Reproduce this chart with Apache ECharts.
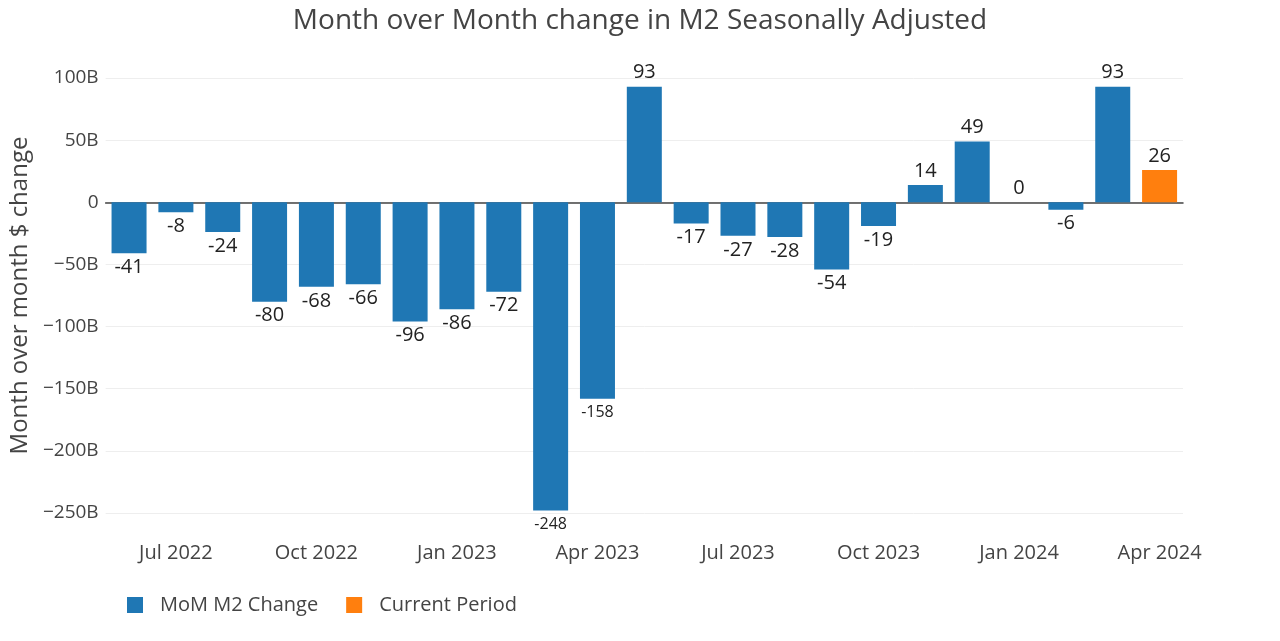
<!DOCTYPE html>
<html>
<head>
<meta charset="utf-8">
<script src="https://cdn.jsdelivr.net/npm/echarts@6/dist/echarts.min.js"></script>
<style>html,body{margin:0;padding:0;background:#fff;}#c{width:1280px;height:641px;}</style>
</head>
<body>
<div id="c"></div>
<script>
const months = ["Jun 2022","Jul 2022","Aug 2022","Sep 2022","Oct 2022","Nov 2022","Dec 2022",
  "Jan 2023","Feb 2023","Mar 2023","Apr 2023","May 2023","Jun 2023","Jul 2023","Aug 2023","Sep 2023",
  "Oct 2023","Nov 2023","Dec 2023","Jan 2024","Feb 2024","Mar 2024","Apr 2024"];
const momChange = [-41,-8,-24,-80,-68,-66,-96,-86,-72,-248,-158,93,-17,-27,-28,-54,-19,14,49,0,-6,93,null];
const currentPeriod = [null,null,null,null,null,null,null,null,null,null,null,null,null,null,null,null,null,null,null,null,null,null,26];
const yTicks = [-250,-200,-150,-100,-50,0,50,100];
const tickMonths = ["Jul 2022","Oct 2022","Jan 2023","Apr 2023","Jul 2023","Oct 2023","Jan 2024","Apr 2024"];

const FONT = "Open Sans";
const TXT = "#444";

function fmtY(v){
  if (v === 0) return "0";
  return (v < 0 ? "\u2212" + Math.abs(v) : v) + "B";
}
function labelFor(v){
  if (v === null) return null;
  const big = Math.abs(v) >= 150;
  return {
    value: v,
    label: {
      position: v >= 0 ? "top" : "bottom",
      fontSize: big ? 16 : 20,
      distance: big ? 6 : 4
    }
  };
}

const chart = echarts.init(document.getElementById("c"), null, {renderer: "canvas"});
chart.setOption({
  animation: false,
  backgroundColor: "#fff",
  textStyle: {fontFamily: FONT, color: TXT},
  title: {
    text: "Month over Month change in M2 Seasonally Adjusted",
    left: "center", top: 2,
    textStyle: {fontFamily: FONT, fontSize: 28, fontWeight: "normal", color: TXT}
  },
  legend: {
    left: 122, top: 590, icon: "rect",
    itemWidth: 16, itemHeight: 16, itemGap: 28,
    textStyle: {fontFamily: FONT, fontSize: 20, color: TXT, padding: [0,0,0,12]},
    data: ["MoM M2 Change", "Current Period"]
  },
  grid: {left: 105, right: 97, top: 78, bottom: 128, containLabel: false},
  xAxis: {
    type: "category",
    data: months,
    axisTick: {show: false},
    axisLine: {show: true, onZero: true, lineStyle: {color: "#444", width: 1.5}},
    axisLabel: {
      fontFamily: FONT, fontSize: 20, color: TXT, margin: 30,
      interval: function(i, v){ return tickMonths.indexOf(v) >= 0; }
    },
    splitLine: {show: false}
  },
  yAxis: {
    type: "value",
    min: yTicks[0], max: yTicks[yTicks.length-1], interval: 50,
    name: "Month over month $ change",
    nameLocation: "middle", nameGap: 67, nameRotate: 90,
    nameTextStyle: {fontFamily: FONT, fontSize: 24, color: TXT},
    axisLine: {show: false}, axisTick: {show: false},
    axisLabel: {fontFamily: FONT, fontSize: 19, color: TXT, margin: 7, formatter: fmtY},
    splitLine: {lineStyle: {color: "#eeeeee", width: 1}}
  },
  series: [
    {
      name: "MoM M2 Change", type: "bar",
      data: momChange.map(labelFor),
      itemStyle: {color: "#1f77b4"},
      barWidth: 35, barGap: "-100%",
      label: {show: true, fontFamily: FONT, color: "#222", formatter: p => String(p.value)}
    },
    {
      name: "Current Period", type: "bar",
      data: currentPeriod.map(labelFor),
      itemStyle: {color: "#ff7f0e"},
      barWidth: 35, barGap: "-100%",
      label: {show: true, fontFamily: FONT, color: "#222", formatter: p => String(p.value)}
    }
  ]
});
</script>
</body>
</html>
